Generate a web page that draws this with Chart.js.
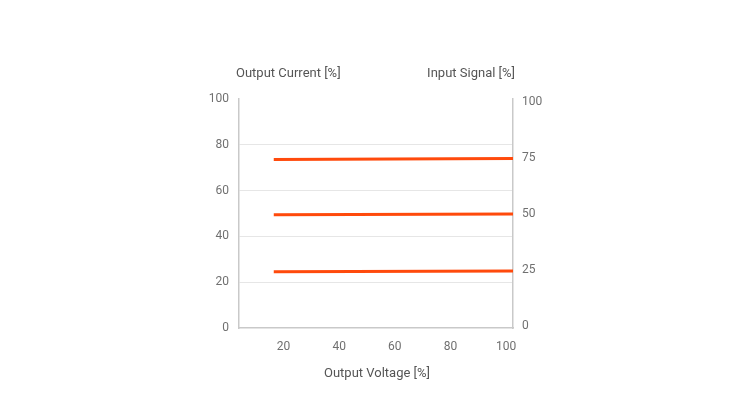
<!DOCTYPE html>
<html>
<head>
<meta charset="utf-8">
<script src="https://cdn.jsdelivr.net/npm/chart.js@4"></script>
<style>
  html, body { margin: 0; padding: 0; background: #fff; }
  #wrap { width: 750px; height: 420px; }
</style>
</head>
<body>
<div id="wrap"><canvas id="c" width="750" height="420"></canvas></div>
<script>
// x positions (Output Voltage %) where each line starts/ends
const lineX = [16.5, 102.5];
// Output Current values for each line at start and end
const line25 = [24.6, 24.9];
const line50 = [49.5, 49.8];
const line75 = [73.6, 74.0];

const xTicks = [20, 40, 60, 80, 100];
const leftTicks = [0, 20, 40, 60, 80, 100];
const rightTicks = [0, 25, 50, 75, 100];

const xTitle = "Output Voltage [%]";
const leftTitle = "Output Current [%]";
const rightTitle = "Input Signal [%]";

const lineColor = "#ff4a0c";
const axisColor = "#c9c9c9";
const textColor = "#707070";

const toPoints = (ys) => lineX.map((x, i) => ({ x: x, y: ys[i] }));

// draws the three axis titles as plain canvas text
const titlesPlugin = {
  id: "titles",
  afterDraw(chart) {
    const ctx = chart.ctx;
    const area = chart.chartArea;
    ctx.save();
    ctx.fillStyle = "#555";
    ctx.font = "13px Roboto";
    ctx.textBaseline = "middle";
    ctx.textAlign = "left";
    ctx.fillText(leftTitle, area.left - 3, 74);
    ctx.textAlign = "right";
    ctx.fillText(rightTitle, area.right + 2, 74);
    ctx.textAlign = "center";
    ctx.fillText(xTitle, (area.left + area.right) / 2 + 1, 374);
    ctx.restore();
  }
};

const ds = (ys) => ({
  data: toPoints(ys),
  showLine: true,
  borderColor: lineColor,
  backgroundColor: lineColor,
  borderWidth: 3,
  pointRadius: 0,
  yAxisID: "y",
  xAxisID: "x"
});

new Chart(document.getElementById("c"), {
  type: "scatter",
  data: { datasets: [ds(line75), ds(line50), ds(line25)] },
  plugins: [titlesPlugin],
  options: {
    responsive: false,
    animation: false,
    layout: { padding: { left: 200, right: 197, top: 99, bottom: 0 } },
    plugins: { legend: { display: false }, tooltip: { enabled: false } },
    scales: {
      x: {
        type: "linear",
        min: 4,
        max: 102.5,
        afterBuildTicks: (s) => { s.ticks = xTicks.map(v => ({ value: v })); },
        afterFit: (s) => { s.height = 92; },
        grid: { display: false },
        border: { color: axisColor, width: 1.5 },
        ticks: { color: textColor, font: { family: "Roboto", size: 12 }, padding: 4 }
      },
      y: {
        position: "left",
        min: 0,
        max: 100,
        afterBuildTicks: (s) => { s.ticks = leftTicks.map(v => ({ value: v })); },
        afterFit: (s) => { s.width = 39; },
        grid: {
          drawTicks: false,
          color: (c) => (c.tick && (c.tick.value === 0 || c.tick.value === 100)) ? "rgba(0,0,0,0)" : "#e6e6e6",
          lineWidth: 1
        },
        border: { color: axisColor, width: 1.5 },
        ticks: { color: textColor, font: { family: "Roboto", size: 12 }, padding: 10 }
      },
      y2: {
        position: "right",
        min: -0.9,
        max: 101.3,
        afterBuildTicks: (s) => { s.ticks = rightTicks.map(v => ({ value: v })); },
        afterFit: (s) => { s.width = 40; },
        grid: { display: false, drawTicks: false },
        border: { color: axisColor, width: 1.5 },
        ticks: { color: textColor, font: { family: "Roboto", size: 12 }, padding: 9 }
      }
    }
  }
});
</script>
</body>
</html>
